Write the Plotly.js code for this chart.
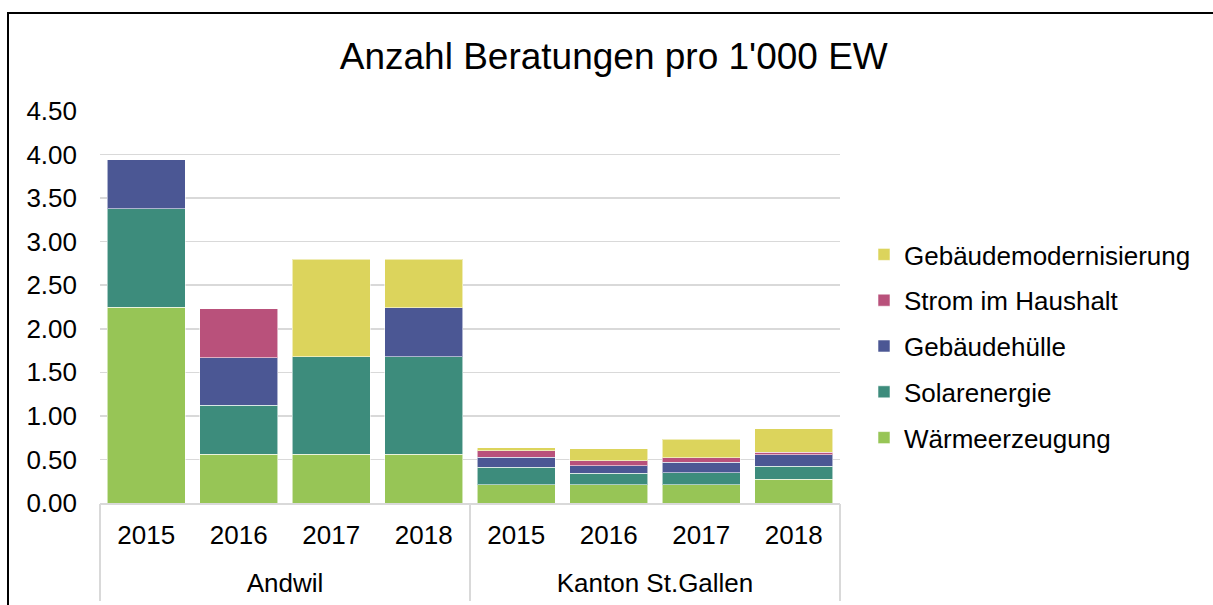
<!DOCTYPE html>
<html>
<head>
<meta charset="utf-8">
<script src="https://cdn.plot.ly/plotly-3.0.1.min.js"></script>
<style>
html,body{margin:0;padding:0;background:#fff;}
#chart{width:1213px;height:605px;}
</style>
</head>
<body>
<div id="chart"></div>
<script>
// Data
const groupNames = ["Andwil","Kanton St.Gallen"];
const regions = ["Andwil","Andwil","Andwil","Andwil","Kanton St.Gallen","Kanton St.Gallen","Kanton St.Gallen","Kanton St.Gallen"];
const years = ["2015","2016","2017","2018","2015","2016","2017","2018"];
const waermeerzeugung = [2.25, 0.56, 0.56, 0.56, 0.21, 0.21, 0.21, 0.27];
const solarenergie = [1.13, 0.56, 1.12, 1.12, 0.20, 0.13, 0.135, 0.15];
const gebaeudehuelle = [0.56, 0.55, 0, 0.56, 0.115, 0.09, 0.12, 0.135];
const stromImHaushalt = [0, 0.56, 0, 0, 0.075, 0.055, 0.055, 0.025];
const gebaeudemodernisierung = [0, 0, 1.12, 0.56, 0.035, 0.14, 0.21, 0.275];
const seriesNames = ["Wärmeerzeugung","Solarenergie","Gebäudehülle","Strom im Haushalt","Gebäudemodernisierung"];
const seriesValues = [waermeerzeugung, solarenergie, gebaeudehuelle, stromImHaushalt, gebaeudemodernisierung];
const seriesColors = ["#97C556","#3D8C7C","#4B5794","#B9517B","#DCD45C"];
const yTickVals = [0,0.5,1,1.5,2,2.5,3,3.5,4,4.5];

const FONT = "Liberation Sans, Arial, sans-serif";
const keys = regions.map((r,i)=>r+" "+years[i]);
const n = keys.length;
const perGroup = n/groupNames.length;
// group centres and boundaries in category-index units
const groupCenters = groupNames.map((g,i)=>i*perGroup + (perGroup-1)/2);
const groupBounds = [];
for(let i=0;i<=groupNames.length;i++) groupBounds.push(i*perGroup-0.5);

const traces = seriesNames.map((nm,i)=>({
  type:'bar',
  name:nm,
  legendgroup:'g'+i,
  legendrank:seriesNames.length-i,
  x:keys,
  y:seriesValues[i],
  marker:{color:seriesColors[i], line:{color:'rgba(255,255,255,0.55)', width:1}},
  hoverinfo:'name+y'
}));
// empty helper trace that activates the group-label axis
traces.push({type:'scatter', x:[], y:[], xaxis:'x2', yaxis:'y', showlegend:false, hoverinfo:'skip'});

const L=100, R=840, T=111, B=503, W=1213, H=605;
const layout = {
  width:W, height:H,
  margin:{l:L, r:W-R, t:T, b:H-B, pad:0},
  paper_bgcolor:'#fff', plot_bgcolor:'#fff',
  barmode:'stack',
  bargap:0.16,
  font:{family:FONT, size:26, color:'#000'},
  title:{text:"Anzahl Beratungen pro 1'000 EW", font:{family:FONT, size:37, color:'#000'},
         x:0.506, xref:'container', xanchor:'center', y:1-56/H, yref:'container', yanchor:'middle'},
  xaxis:{type:'category', categoryorder:'array', categoryarray:keys, range:[-0.5, n-0.5],
         tickmode:'array', tickvals:keys, ticktext:years,
         showline:true, linecolor:'#D9D9D9', linewidth:1.5,
         ticks:'', ticklabelstandoff:8, tickfont:{family:FONT, size:26, color:'#000'}, showgrid:false, zeroline:false, fixedrange:true},
  xaxis2:{overlaying:'x', anchor:'free', position:0, side:'bottom', type:'linear', range:[-0.5, n-0.5],
          tickmode:'array', tickvals:groupCenters, ticktext:groupNames, ticks:'', ticklabelstandoff:62,
          tickfont:{family:FONT, size:26, color:'#000'}, showgrid:false, zeroline:false, showline:false, fixedrange:true,
          minor:{tickmode:'array', tickvals:groupBounds, ticks:'outside', ticklen:97, tickwidth:1.5, tickcolor:'#D9D9D9', showgrid:false}},
  yaxis:{range:[0,4.5], tickvals:yTickVals, tickformat:'.2f', showgrid:true, gridcolor:'#D9D9D9', gridwidth:1.5,
         zeroline:false, showline:false, ticks:'', ticklabelstandoff:22,
         tickfont:{family:FONT, size:26, color:'#000'}, fixedrange:true},
  legend:{traceorder:'grouped', tracegroupgap:9, x:(864-L)/(R-L), xanchor:'left', y:(B-231)/(B-T), yanchor:'top',
          font:{family:FONT, size:26, color:'#000'}, bgcolor:'rgba(0,0,0,0)', itemclick:false},
  shapes:[
    {type:'line', xref:'paper', yref:'paper', x0:(8-L)/(R-L), x1:(8-L)/(R-L), y0:(B-620)/(B-T), y1:(B-13)/(B-T), line:{color:'#000', width:2}},
    {type:'line', xref:'paper', yref:'paper', x0:(7-L)/(R-L), x1:(1230-L)/(R-L), y0:(B-13)/(B-T), y1:(B-13)/(B-T), line:{color:'#000', width:2}}
  ]
};
Plotly.newPlot('chart', traces, layout, {displayModeBar:false, staticPlot:true});
</script>
</body>
</html>
